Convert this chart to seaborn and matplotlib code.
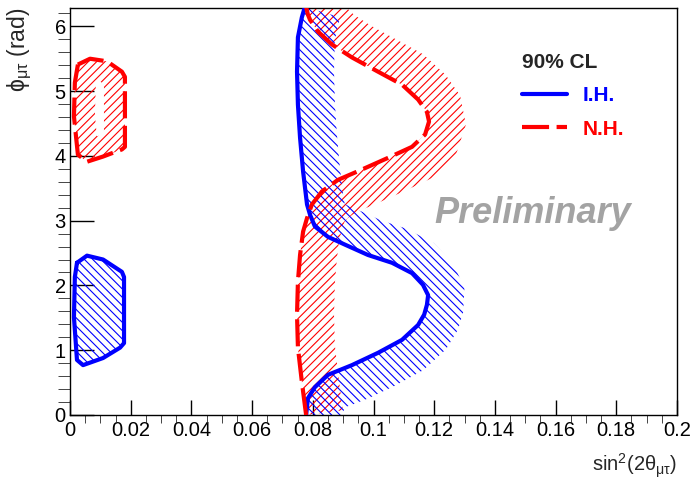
import numpy as np
import matplotlib
matplotlib.use("Agg")
import matplotlib.pyplot as plt
from matplotlib.path import Path
from matplotlib.patches import PathPatch
from matplotlib.lines import Line2D
from matplotlib.ticker import MultipleLocator
import seaborn as sns

# 90% CL contours, sin^2(2theta_mutau) vs phi_mutau
ih_x = [0.0778, 0.0784, 0.0807, 0.0850, 0.0929, 0.1015, 0.1094, 0.1147, 0.1167, 0.1176, 0.1180,
        0.1163, 0.1127, 0.1061, 0.0982, 0.0906, 0.0850, 0.0807, 0.0791, 0.0781, 0.0768,
        0.0758, 0.0751, 0.0748, 0.0751, 0.0764, 0.0774]
ih_y = [0.00, 0.26, 0.43, 0.62, 0.77, 0.96, 1.16, 1.39, 1.55, 1.70, 1.85,
        2.01, 2.19, 2.35, 2.47, 2.63, 2.75, 2.91, 3.09, 3.25, 3.76,
        4.28, 4.79, 5.30, 5.83, 6.14, 6.30]

nh_x = [0.0778, 0.0764, 0.0751, 0.0748, 0.0751, 0.0758, 0.0768, 0.0781, 0.0797, 0.0830,
        0.0883, 0.0962, 0.1048, 0.1127, 0.1170, 0.1183, 0.1176, 0.1147, 0.1094, 0.1015,
        0.0929, 0.0863, 0.0817, 0.0791, 0.0784, 0.0778]
nh_y = [0.00, 0.51, 1.04, 1.55, 2.06, 2.47, 2.83, 3.04, 3.25, 3.45,
        3.63, 3.79, 3.97, 4.14, 4.33, 4.53, 4.68, 4.87, 5.10, 5.30,
        5.52, 5.72, 5.92, 6.10, 6.18, 6.30]

# small islands near sin^2 = 0
ih_isl_x = [0.0023, 0.0056, 0.0109, 0.0171, 0.0178, 0.0178, 0.0165, 0.0109, 0.0043, 0.0023, 0.0013, 0.0016]
ih_isl_y = [2.35, 2.46, 2.40, 2.21, 2.13, 1.11, 1.04, 0.88, 0.77, 0.85, 1.51, 2.13]
nh_isl_x = [0.0026, 0.0066, 0.0122, 0.0171, 0.0181, 0.0181, 0.0171, 0.0109, 0.0056, 0.0026, 0.0013, 0.0016]
nh_isl_y = [5.41, 5.50, 5.46, 5.30, 5.22, 4.14, 4.10, 3.99, 3.91, 4.02, 4.61, 5.13]

sns.set_style("ticks")
plt.rcParams['font.family'] = ['Liberation Sans', 'DejaVu Sans']
plt.rcParams['mathtext.fontset'] = 'custom'
plt.rcParams['mathtext.rm'] = 'Liberation Sans'
plt.rcParams['mathtext.it'] = 'Liberation Sans:italic'
plt.rcParams['mathtext.bf'] = 'Liberation Sans:bold'
plt.rcParams['hatch.linewidth'] = 0.8
plt.rcParams['axes.edgecolor'] = 'black'
plt.rcParams['axes.linewidth'] = 1.0

fig, ax = plt.subplots(figsize=(6.91, 4.82), dpi=100)
fig.subplots_adjust(left=70 / 691, right=677 / 691, bottom=67 / 482, top=474 / 482)
ax.set_xlim(0, 0.2)
ax.set_ylim(0, 2 * np.pi)

dash = (0, (6.5, 1.8))


def offset_curve(x, y, width, closed=False):
    # shift the curve sideways by `width` pixels (right of travel direction)
    pts = ax.transData.transform(np.column_stack([x, y]))
    if closed:
        tang = np.roll(pts, -1, axis=0) - np.roll(pts, 1, axis=0)
    else:
        tang = np.gradient(pts, axis=0)
    nrm = np.column_stack([tang[:, 1], -tang[:, 0]])
    nrm /= np.hypot(nrm[:, 0], nrm[:, 1])[:, None]
    return ax.transData.inverted().transform(pts + width * nrm)


def hatched_band(x, y, color, hatch, width=37):
    off = offset_curve(x, y, width)
    bx = np.concatenate([x, off[::-1, 0]])
    by = np.concatenate([y, off[::-1, 1]])
    ax.fill(bx, by, facecolor='none', edgecolor=color, hatch=hatch, linewidth=0, zorder=1)


# excluded-side hatching
hatched_band(nh_x, nh_y, 'red', '////')
hatched_band(ih_x, ih_y, 'blue', '\\\\\\\\')

ax.fill(ih_isl_x, ih_isl_y, facecolor='none', edgecolor='blue', hatch='\\\\\\\\', linewidth=0, zorder=1)

outer = np.column_stack([nh_isl_x, nh_isl_y])
inner = offset_curve(nh_isl_x, nh_isl_y, 21, closed=True)[::-1]
ring = Path.make_compound_path(Path(np.vstack([outer, outer[:1]]), closed=True),
                               Path(np.vstack([inner, inner[:1]]), closed=True))
ax.add_patch(PathPatch(ring, facecolor='none', edgecolor='red', hatch='////', linewidth=0, zorder=1))

# contour lines
sns.lineplot(x=ih_x, y=ih_y, sort=False, estimator=None, color='blue', lw=3, ax=ax, zorder=3)
sns.lineplot(x=nh_x, y=nh_y, sort=False, estimator=None, color='red', lw=3, ls=dash, ax=ax, zorder=3)
sns.lineplot(x=ih_isl_x + ih_isl_x[:1], y=ih_isl_y + ih_isl_y[:1], sort=False, estimator=None,
             color='blue', lw=3, ax=ax, zorder=3)
sns.lineplot(x=nh_isl_x + nh_isl_x[:1], y=nh_isl_y + nh_isl_y[:1], sort=False, estimator=None,
             color='red', lw=3, ls=dash, ax=ax, zorder=3)

# axes styling, ROOT-like
ax.xaxis.set_minor_locator(MultipleLocator(0.005))
ax.yaxis.set_major_locator(MultipleLocator(1))
ax.yaxis.set_minor_locator(MultipleLocator(0.2))
ax.set_xticks(np.arange(0, 0.201, 0.02))
ax.set_xticklabels(['0', '0.02', '0.04', '0.06', '0.08', '0.1', '0.12', '0.14', '0.16', '0.18', '0.2'])
ax.tick_params(direction='in', top=False, right=False, colors='black', width=1, labelsize=14.5)
ax.tick_params(axis='x', which='major', length=11, pad=4)
ax.tick_params(axis='x', which='minor', length=5.5)
ax.tick_params(axis='y', which='major', length=17, pad=3)
ax.tick_params(axis='y', which='minor', length=8.5)

ax.set_xlabel(r'sin$^{2}$(2$\mathrm{\theta}_{\mathrm{\mu\tau}}$)', fontsize=14.5, loc='right', labelpad=9)
ax.set_ylabel(r'ϕ$_{\mathrm{\mu\tau}}$ (rad)', fontsize=16.5, loc='top', labelpad=14)

ax.text(0.601, 0.495, 'Preliminary', transform=ax.transAxes, fontsize=26, fontweight='bold',
        fontstyle='italic', color='#a3a3a3', ha='left', va='center')

handles = [Line2D([], [], color='blue', lw=3), Line2D([], [], color='red', lw=3, ls=dash)]
leg = ax.legend(handles, ['I.H.', 'N.H.'], title='90% CL', loc='upper left',
                bbox_to_anchor=(0.745, 0.89), frameon=False, borderpad=0, borderaxespad=0,
                handlelength=2.16, handletextpad=0.72, labelspacing=0.69, alignment='left',
                prop={'weight': 'bold', 'size': 15}, labelcolor='linecolor',
                title_fontproperties={'weight': 'bold', 'size': 15})

fig.savefig('out.png', dpi=100)
